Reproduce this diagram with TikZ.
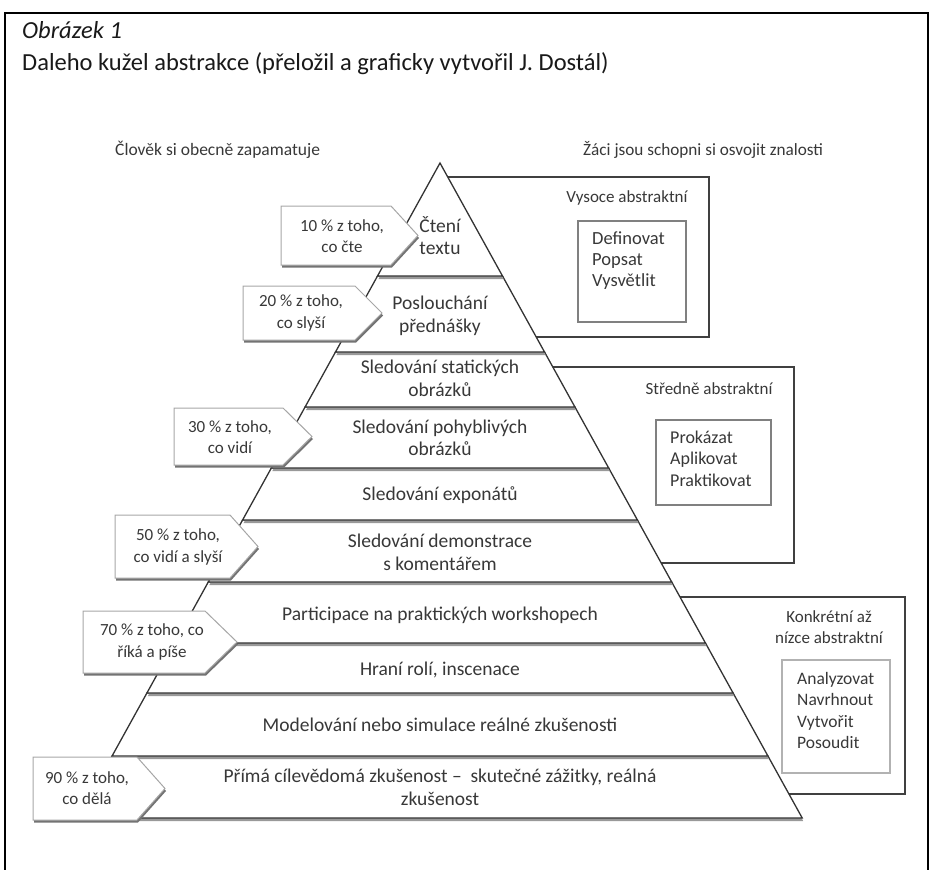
\documentclass[tikz,border=0pt]{standalone}
\usepackage{fontspec}
\setmainfont{Carlito}
\begin{document}
\begin{tikzpicture}[x=1pt,y=-1pt]
\useasboundingbox (0,0) rectangle (932,870);
\tikzset{
 txt/.style={font=\fontsize{17}{21.5}\selectfont, text=black!78, align=center, inner sep=0pt},
 ptxt/.style={font=\fontsize{19.5}{22.5}\selectfont, text=black!78, align=center, inner sep=0pt},
 ltxt/.style={font=\fontsize{17.5}{21}\selectfont, text=black!78, align=left, inner sep=0pt, anchor=west},
 btxt/.style={font=\fontsize{18}{21}\selectfont, text=black!78, inner sep=0pt, anchor=base west},
 outerbox/.style={draw=black!75, line width=1.8pt},
 innerbox/.style={draw=black!50, line width=1.2pt},
 band/.style={fill=white, draw=black!80, line width=1.3pt, line join=miter},
 bandshadow/.style={fill=black!40},
 tagbox/.style={fill=white, draw=black!35, line width=1pt},
 tagshadow/.style={fill=black!55},
 ttl/.style={font=\fontsize{24.5}{28}\selectfont, text=black!90, anchor=base west, inner sep=0pt}
}
% frame
\draw[line width=2.5pt, black] (5,870) -- (5,13) -- (928,13) -- (928,870);
% titles
\node[ttl, font=\fontsize{24.5}{28}\selectfont\itshape] (obr) at (22,38) {Obrázek 1};
\node[ttl] (title) at (22,70) {Daleho kužel abstrakce (přeložil a graficky vytvořil J. Dostál)};
\node[ltxt] (left) at (115,150) {Člověk si obecně zapamatuje};
\node[ltxt, font=\fontsize{17.2}{20}\selectfont] (right) at (583,150) {Žáci jsou schopni si osvojit znalosti};
% right boxes
\draw[outerbox] (440,177) rectangle (709,337);
\draw[innerbox] (578,221) rectangle (686,322);
\node[txt] (va) at (627,198) {Vysoce abstraktní};
\node[btxt, font=\fontsize{18.5}{21}\selectfont] (v1) at (592,244) {Definovat};
\node[btxt, font=\fontsize{18.5}{21}\selectfont] (v2) at (592,265) {Popsat};
\node[btxt, font=\fontsize{18.5}{21}\selectfont] (v3) at (592,286) {Vysvětlit};

\draw[outerbox] (440,367) rectangle (794,563);
\draw[innerbox] (656,420) rectangle (771,505);
\node[txt] (sa) at (709,389) {Středně abstraktní};
\node[btxt] (s1) at (670,443) {Prokázat};
\node[btxt] (s2) at (670,464.5) {Aplikovat};
\node[btxt] (s3) at (670,486) {Praktikovat};

\draw[outerbox] (440,597) rectangle (905,794);
\draw[innerbox, draw=black!30] (782,660) rectangle (890,773);
\node[txt] (ka) at (829,627) {Konkrétní až\\nízce abstraktní};
\node[btxt, font=\fontsize{17.5}{21}\selectfont] (k1) at (797,684) {Analyzovat};
\node[btxt, font=\fontsize{17.5}{21}\selectfont] (k2) at (797,705.5) {Navrhnout};
\node[btxt, font=\fontsize{17.5}{21}\selectfont] (k3) at (797,727) {Vytvořit};
\node[btxt, font=\fontsize{17.5}{21}\selectfont] (k4) at (797,748.5) {Posoudit};
% pyramid bands, bottom to top
\foreach \ya/\yb in {756/818, 693/756, 643/693, 582/643, 520/582, 468/520, 407/468, 352/407, 276/352, 163/276} {
  \fill[bandshadow, shift={(1,3)}] ({440-0.553*(\ya-163)},\ya) -- ({440+0.553*(\ya-163)},\ya) -- ({440+0.553*(\yb-163)},\yb) -- ({440-0.553*(\yb-163)},\yb) -- cycle;
  \filldraw[band] ({440-0.553*(\ya-163)},\ya) -- ({440+0.553*(\ya-163)},\ya) -- ({440+0.553*(\yb-163)},\yb) -- ({440-0.553*(\yb-163)},\yb) -- cycle;
}
\node[ptxt] (b1) at (440,235.5) {Čtení\\textu};
\node[ptxt] (b2) at (440,316) {Poslouchání\\přednášky};
\node[ptxt] (b3) at (440,378.5) {Sledování statických\\obrázků};
\node[ptxt] (b4) at (440,438) {Sledování pohyblivých\\obrázků};
\node[ptxt] (b5) at (440,495) {Sledování exponátů};
\node[ptxt] (b6) at (440,552.5) {Sledování demonstrace\\s komentářem};
\node[ptxt] (b7) at (440,615) {Participace na praktických workshopech};
\node[ptxt] (b8) at (440,670) {Hraní rolí, inscenace};
\node[ptxt] (b9) at (440,725) {Modelování nebo simulace reálné zkušenosti};
\node[ptxt] (b10) at (440,787.5) {Přímá cílevědomá zkušenost –\ \ skutečné zážitky, reálná\\zkušenost};
% percentage tags
\foreach \xa/\xb/\xc/\ya/\yb in {281/391/418/206/265, 243/355/382/286/340, 174/283/312/408/465, 115/230/258/515/578, 83/205/237/611/673, 33/137/165/757/820} {
  \fill[tagshadow, shift={(1,2.5)}] (\xa,\ya) -- (\xb,\ya) -- (\xc,{(\ya+\yb)/2}) -- (\xb,\yb) -- (\xa,\yb) -- cycle;
  \filldraw[tagbox] (\xa,\ya) -- (\xb,\ya) -- (\xc,{(\ya+\yb)/2}) -- (\xb,\yb) -- (\xa,\yb) -- cycle;
}
\node[txt] (t10) at (342,236) {10 \% z toho,\\co čte};
\node[txt] (t20) at (301,313) {20 \% z toho,\\co slyší};
\node[txt] (t30) at (230,437) {30 \% z toho,\\co vidí};
\node[txt] (t50) at (178,547) {50 \% z toho,\\co vidí a slyší};
\node[txt] (t70) at (152,642) {70 \% z toho, co\\říká a píše};
\node[txt] (t90) at (87,788) {90 \% z toho,\\co dělá};
\end{tikzpicture}
\end{document}
